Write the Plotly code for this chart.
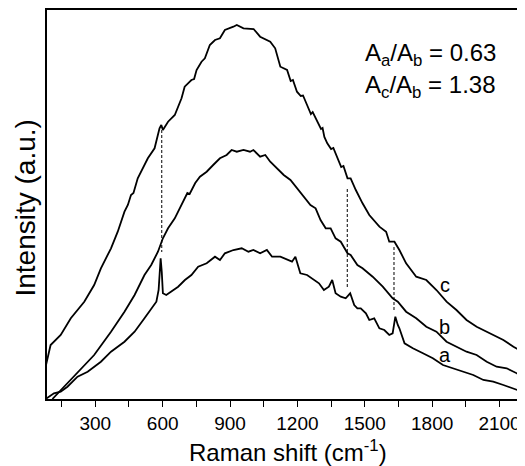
import plotly.graph_objects as go

# Raman shift (cm-1) and intensity (a.u.)
shift_a = [79, 94, 116, 146, 176, 221, 266, 325, 370, 430, 475, 519, 549, 572, 582, 587, 591, 596, 601,
           616, 639, 669, 699, 728, 758, 796, 833, 855, 877, 915, 952, 982, 1004, 1034, 1064, 1087,
           1124, 1154, 1176, 1191, 1206, 1213, 1243, 1273, 1296, 1318, 1340, 1355, 1370, 1393, 1415,
           1435, 1453, 1467, 1482, 1505, 1520, 1542, 1565, 1587, 1609, 1624, 1636, 1647, 1654, 1677,
           1714, 1759, 1803, 1848, 1893, 1938, 1983, 2028, 2072, 2117, 2162, 2200]
int_a = [0, 2.3, 5.7, 7.3, 12.3, 22.3, 27.3, 37.3, 47.3, 57.3, 67.3, 80.7, 90.7, 97.3, 109, 125.7, 140.7,
         127.3, 105.7, 104, 107.3, 112.3, 119, 124, 132.3, 135.7, 142.3, 139, 145.7, 149, 150.7, 147.3,
         149, 145.7, 149, 142.3, 142.3, 139, 137.3, 142.3, 132.3, 125.7, 124, 119, 115.7, 109, 112.3,
         119, 105.7, 102.3, 100.7, 105.7, 94, 90.7, 90.7, 85.7, 79, 80.7, 70.7, 69, 64, 65.7, 82.3, 74,
         70.7, 55.7, 50.7, 45.7, 40.7, 34, 30.7, 27.3, 24, 19, 17.3, 14, 10.7, 7.3]

shift_b = [109, 161, 221, 295, 370, 430, 475, 519, 549, 579, 601, 624, 654, 684, 710, 720, 745, 766, 796,
           825, 855, 885, 907, 930, 960, 989, 1004, 1034, 1057, 1079, 1109, 1139, 1169, 1198, 1228, 1258,
           1281, 1303, 1326, 1348, 1370, 1393, 1423, 1437, 1467, 1490, 1535, 1580, 1624, 1647, 1684,
           1729, 1774, 1819, 1864, 1908, 1953, 1998, 2043, 2087, 2132, 2177, 2200]
int_b = [0, 12.3, 25.7, 44, 67.3, 87.3, 104, 124, 134, 147.3, 160.7, 170.7, 180.7, 194, 206, 205, 216,
         222.3, 227.3, 234, 240.7, 244, 249, 247.3, 249, 247.3, 249, 242.3, 244, 237.3, 230.7, 224, 219,
         210.7, 202.3, 194, 190.7, 179, 170.7, 170.7, 160.7, 157.3, 145.7, 144, 134, 130.7, 122.3, 112.3,
         100.7, 97.3, 87.3, 80.7, 72.3, 67.3, 57.3, 52.3, 47.3, 44, 37.3, 32.3, 30.7, 25.7, 22.3]

shift_c = [79, 101, 146, 191, 251, 295, 325, 370, 400, 430, 445, 459, 470, 489, 534, 564, 586, 594, 601,
           624, 654, 684, 698, 728, 740, 751, 773, 788, 810, 833, 855, 877, 915, 930, 960, 1005, 1034,
           1079, 1101, 1124, 1154, 1170, 1180, 1198, 1215, 1225, 1243, 1260, 1268, 1288, 1305, 1312,
           1320, 1333, 1350, 1360, 1378, 1395, 1405, 1423, 1437, 1460, 1490, 1520, 1565, 1595, 1609,
           1632, 1654, 1684, 1729, 1774, 1819, 1864, 1908, 1953, 1998, 2058, 2117, 2162, 2200]
int_c = [32.3, 54, 64, 80.7, 97.3, 114, 130.7, 150.7, 167.3, 187.3, 194, 204, 206, 220.7, 240.7, 250.7,
         270.7, 274, 269, 277.3, 284, 300.7, 312.3, 319, 320, 329, 337.3, 340.7, 354, 359, 360.7, 369,
         372.3, 374, 370.7, 370, 362.3, 357.3, 350.7, 332.3, 329, 318, 319, 307.3, 303, 303.5, 294, 285,
         287, 277.3, 270, 271, 262, 255.7, 250, 251, 240.7, 232, 233, 220.7, 220.7, 209, 195.7, 184,
         172.3, 167.3, 157.3, 157.3, 149, 135.7, 122.3, 119, 109, 97.3, 89, 79, 72.3, 65.7, 59, 52.3,
         47.3]

# dashed guide lines through the shared bands
band_pos = [596, 1422, 1630]
band_top = [269, 210, 152]
band_bot = [147, 110, 89]

curve_names = ["a", "b", "c"]
label_int = [44, 72, 114]
label_shift = 1857

font = "Liberation Sans, Arial, sans-serif"

fig = go.Figure()
for xs, ys, nm in [(shift_a, int_a, "a"), (shift_b, int_b, "b"), (shift_c, int_c, "c")]:
    fig.add_trace(go.Scatter(x=xs, y=ys, mode="lines", name=nm,
                             line=dict(color="black", width=1.8)))

dx, dy = [], []
for p, t, b in zip(band_pos, band_top, band_bot):
    dx += [p, p, None]
    dy += [t, b, None]
fig.add_trace(go.Scatter(x=dx, y=dy, mode="lines",
                         line=dict(color="black", width=1, dash="3px,2px")))

for nm, yv in zip(curve_names, label_int):
    fig.add_annotation(x=label_shift, y=yv, text=nm, showarrow=False,
                       font=dict(size=20, color="black", family=font))

fig.add_annotation(xref="paper", yref="paper", x=0.666, y=0.885, xanchor="left", yanchor="middle",
                   text="A<sub>a</sub>/A<sub>b</sub> = 0.63", showarrow=False,
                   font=dict(size=24, color="black", family=font))
fig.add_annotation(xref="paper", yref="paper", x=0.666, y=0.803, xanchor="left", yanchor="middle",
                   text="A<sub>c</sub>/A<sub>b</sub> = 1.38", showarrow=False,
                   font=dict(size=24, color="black", family=font))

# axis titles placed as annotations so the plot area stays fixed
fig.add_annotation(xref="paper", yref="paper", x=0.507, y=-0.09, xanchor="center", yanchor="top",
                   text="Raman shift (cm<sup>-1</sup>)", showarrow=False,
                   font=dict(size=24, color="black", family=font))
fig.add_annotation(xref="paper", yref="paper", x=-0.046, y=0.49, xanchor="center", yanchor="middle",
                   text="Intensity (a.u.)", textangle=-90, showarrow=False,
                   font=dict(size=28, color="black", family=font))

# page body has an 8px margin, so the figure is 8px smaller than the window
fig.update_layout(
    width=517, height=458,
    margin=dict(l=39, r=3, t=2, b=67),
    plot_bgcolor="white", paper_bgcolor="white",
    showlegend=False,
    font=dict(family=font, color="black"),
)
fig.update_xaxes(
    range=[85, 2200], tickvals=[300, 600, 900, 1200, 1500, 1800, 2100],
    ticks="outside", ticklen=6, tickwidth=1.2, tickcolor="black",
    minor=dict(tickvals=[150, 450, 750, 1050, 1350, 1650, 1950], ticks="outside",
               ticklen=6, tickwidth=1.2, tickcolor="black"),
    tickfont=dict(size=19), showline=True, linecolor="black", linewidth=1.5, mirror=True,
    showgrid=False, zeroline=False, automargin=False,
)
fig.update_yaxes(
    range=[0, 389], showticklabels=False, ticks="", showline=True, linecolor="black",
    linewidth=1.5, mirror=True, showgrid=False, zeroline=False, automargin=False,
)

fig.write_html("out.html")
